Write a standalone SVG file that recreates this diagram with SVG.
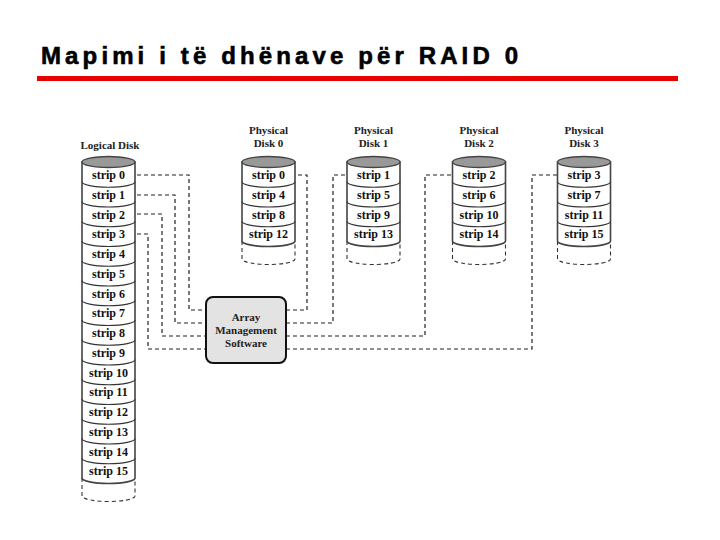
<svg xmlns="http://www.w3.org/2000/svg" width="720" height="540" viewBox="0 0 720 540">
<style>
.title{font-family:"Liberation Sans",Arial,sans-serif;font-weight:bold;font-size:24px;fill:#000;stroke:#000;stroke-width:0.6}
.lbl{font-family:"Liberation Serif","Times New Roman",serif;font-weight:bold;font-size:11px;fill:#222;text-anchor:middle}
.st{font-family:"Liberation Serif","Times New Roman",serif;font-weight:bold;font-size:12px;fill:#111;text-anchor:middle}
.body{fill:#fff;stroke:#444;stroke-width:1.6}
.top{fill:#999;stroke:#444;stroke-width:1.4}
.sep{fill:none;stroke:#333;stroke-width:1.1}
.ext{fill:none;stroke:#333;stroke-width:1.1;stroke-dasharray:4 3}
.conn{fill:none;stroke:#222;stroke-width:1.2;stroke-dasharray:4 3}
.box{fill:#e3e3e3;stroke:#111;stroke-width:2}
</style>
<rect width="720" height="540" fill="#fff"/>
<g id="title">
<text class="title" x="41" y="64" textLength="477" lengthAdjust="spacing">Mapimi i të dhënave për RAID 0</text>
<rect x="37" y="76" width="641" height="5" fill="#e60000"/>
</g>

<g id="connectors">
<path class="conn" d="M137,175 H189 V310 H206"/>
<path class="conn" d="M137,195 H175 V323 H206"/>
<path class="conn" d="M137,214 H162 V336 H206"/>
<path class="conn" d="M137,234 H148 V349 H206"/>
<path class="conn" d="M286,310 H307 V175 H297"/>
<path class="conn" d="M286,323 H333 V175 H346"/>
<path class="conn" d="M286,336 H425 V175 H452"/>
<path class="conn" d="M286,349 H532 V175 H557"/>
</g>

<g id="logical-disk">
<text class="lbl" x="110" y="149">Logical Disk</text>
<path class="ext" d="M82,478 V496 a26.5 5.5 0 0 0 53 0 V478"/>
<path class="body" d="M82,162 V478 a26.5 5.5 0 0 0 53 0 V162 Z"/>
<ellipse class="top" cx="108.5" cy="162" rx="26.5" ry="5.5"/>
<path class="sep" d="M82,181.75 a26.5 5.5 0 0 0 53 0 M82,201.5 a26.5 5.5 0 0 0 53 0 M82,221.25 a26.5 5.5 0 0 0 53 0 M82,241 a26.5 5.5 0 0 0 53 0 M82,260.75 a26.5 5.5 0 0 0 53 0 M82,280.5 a26.5 5.5 0 0 0 53 0 M82,300.25 a26.5 5.5 0 0 0 53 0 M82,320 a26.5 5.5 0 0 0 53 0 M82,339.75 a26.5 5.5 0 0 0 53 0 M82,359.5 a26.5 5.5 0 0 0 53 0 M82,379.25 a26.5 5.5 0 0 0 53 0 M82,399 a26.5 5.5 0 0 0 53 0 M82,418.75 a26.5 5.5 0 0 0 53 0 M82,438.5 a26.5 5.5 0 0 0 53 0 M82,458.25 a26.5 5.5 0 0 0 53 0"/>
<text class="st" x="108.5" y="179">strip 0</text>
<text class="st" x="108.5" y="198.75">strip 1</text>
<text class="st" x="108.5" y="218.5">strip 2</text>
<text class="st" x="108.5" y="238.25">strip 3</text>
<text class="st" x="108.5" y="258">strip 4</text>
<text class="st" x="108.5" y="277.75">strip 5</text>
<text class="st" x="108.5" y="297.5">strip 6</text>
<text class="st" x="108.5" y="317.25">strip 7</text>
<text class="st" x="108.5" y="337">strip 8</text>
<text class="st" x="108.5" y="356.75">strip 9</text>
<text class="st" x="108.5" y="376.5">strip 10</text>
<text class="st" x="108.5" y="396.25">strip 11</text>
<text class="st" x="108.5" y="416">strip 12</text>
<text class="st" x="108.5" y="435.75">strip 13</text>
<text class="st" x="108.5" y="455.5">strip 14</text>
<text class="st" x="108.5" y="475.25">strip 15</text>
</g>

<g id="physical-disk-0">
<text class="lbl" x="268.5" y="134">Physical</text>
<text class="lbl" x="268.5" y="147">Disk 0</text>
<path class="ext" d="M242,241 V259 a26.5 5.5 0 0 0 53 0 V241"/>
<path class="body" d="M242,162 V241 a26.5 5.5 0 0 0 53 0 V162 Z"/>
<ellipse class="top" cx="268.5" cy="162" rx="26.5" ry="5.5"/>
<path class="sep" d="M242,181.75 a26.5 5.5 0 0 0 53 0 M242,201.5 a26.5 5.5 0 0 0 53 0 M242,221.25 a26.5 5.5 0 0 0 53 0"/>
<text class="st" x="268.5" y="179">strip 0</text>
<text class="st" x="268.5" y="198.75">strip 4</text>
<text class="st" x="268.5" y="218.5">strip 8</text>
<text class="st" x="268.5" y="238.25">strip 12</text>
</g>

<g id="physical-disk-1">
<text class="lbl" x="373.5" y="134">Physical</text>
<text class="lbl" x="373.5" y="147">Disk 1</text>
<path class="ext" d="M347,241 V259 a26.5 5.5 0 0 0 53 0 V241"/>
<path class="body" d="M347,162 V241 a26.5 5.5 0 0 0 53 0 V162 Z"/>
<ellipse class="top" cx="373.5" cy="162" rx="26.5" ry="5.5"/>
<path class="sep" d="M347,181.75 a26.5 5.5 0 0 0 53 0 M347,201.5 a26.5 5.5 0 0 0 53 0 M347,221.25 a26.5 5.5 0 0 0 53 0"/>
<text class="st" x="373.5" y="179">strip 1</text>
<text class="st" x="373.5" y="198.75">strip 5</text>
<text class="st" x="373.5" y="218.5">strip 9</text>
<text class="st" x="373.5" y="238.25">strip 13</text>
</g>

<g id="physical-disk-2">
<text class="lbl" x="479" y="134">Physical</text>
<text class="lbl" x="479" y="147">Disk 2</text>
<path class="ext" d="M452.5,241 V259 a26.5 5.5 0 0 0 53 0 V241"/>
<path class="body" d="M452.5,162 V241 a26.5 5.5 0 0 0 53 0 V162 Z"/>
<ellipse class="top" cx="479" cy="162" rx="26.5" ry="5.5"/>
<path class="sep" d="M452.5,181.75 a26.5 5.5 0 0 0 53 0 M452.5,201.5 a26.5 5.5 0 0 0 53 0 M452.5,221.25 a26.5 5.5 0 0 0 53 0"/>
<text class="st" x="479" y="179">strip 2</text>
<text class="st" x="479" y="198.75">strip 6</text>
<text class="st" x="479" y="218.5">strip 10</text>
<text class="st" x="479" y="238.25">strip 14</text>
</g>

<g id="physical-disk-3">
<text class="lbl" x="584" y="134">Physical</text>
<text class="lbl" x="584" y="147">Disk 3</text>
<path class="ext" d="M557.5,241 V259 a26.5 5.5 0 0 0 53 0 V241"/>
<path class="body" d="M557.5,162 V241 a26.5 5.5 0 0 0 53 0 V162 Z"/>
<ellipse class="top" cx="584" cy="162" rx="26.5" ry="5.5"/>
<path class="sep" d="M557.5,181.75 a26.5 5.5 0 0 0 53 0 M557.5,201.5 a26.5 5.5 0 0 0 53 0 M557.5,221.25 a26.5 5.5 0 0 0 53 0"/>
<text class="st" x="584" y="179">strip 3</text>
<text class="st" x="584" y="198.75">strip 7</text>
<text class="st" x="584" y="218.5">strip 11</text>
<text class="st" x="584" y="238.25">strip 15</text>
</g>

<g id="array-management-software">
<rect class="box" x="206" y="297" width="80" height="66" rx="7"/>
<text class="lbl" x="246" y="321">Array</text>
<text class="lbl" x="246" y="334">Management</text>
<text class="lbl" x="246" y="347">Software</text>
</g>
</svg>
